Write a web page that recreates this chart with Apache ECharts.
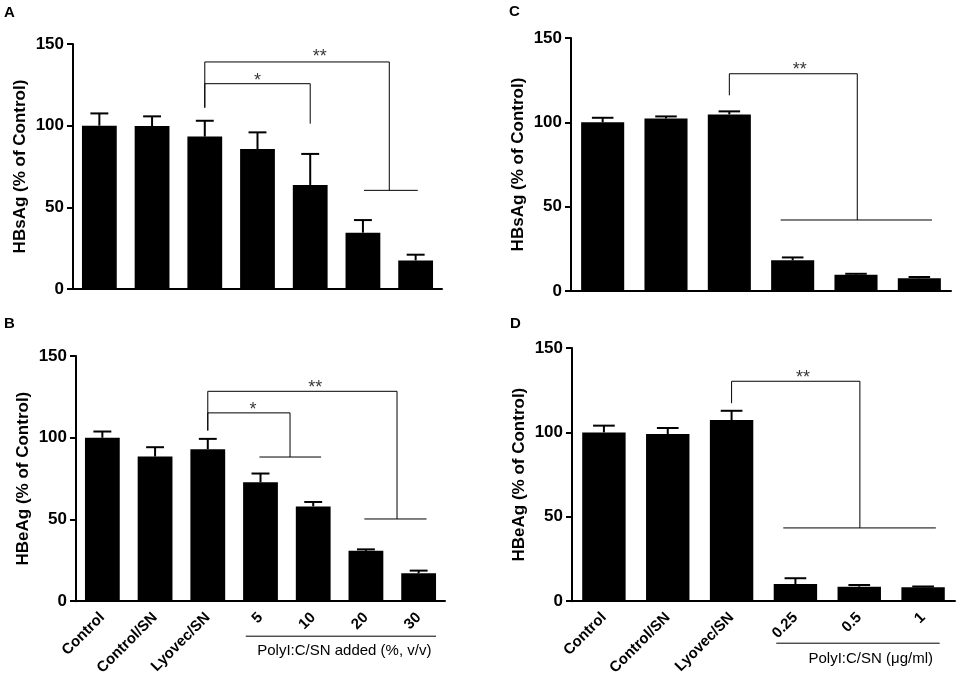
<!DOCTYPE html>
<html><head><meta charset="utf-8">
<script src="https://cdn.jsdelivr.net/npm/echarts@6/dist/echarts.min.js"></script>
<style>html,body{margin:0;padding:0;background:#fff}#c{width:957px;height:678px}</style>
</head><body><div id="c"></div>
<script>
// ---- data ----
const catsAB = ['Control', 'Control/SN', 'Lyovec/SN', '5', '10', '20', '30'];
const catsCD = ['Control', 'Control/SN', 'Lyovec/SN', '0.25', '0.5', '1'];

const meanA = [100, 99.8, 93.3, 85.7, 63.7, 34.5, 17.5];
const errA  = [7.5, 5.9, 9.7, 10.2, 19.0, 7.7, 3.5];
const meanB = [100, 88.5, 93.0, 72.7, 58.0, 30.8, 17.1];
const errB  = [3.8, 5.7, 6.3, 5.4, 2.7, 0.9, 1.6];
const meanC = [100, 102.3, 104.7, 18.2, 9.7, 7.5];
const errC  = [2.7, 1.2, 1.8, 1.7, 0.5, 0.8];
const meanD = [100, 99.0, 107.3, 10.2, 8.6, 8.2];
const errD  = [4.0, 3.6, 5.5, 3.4, 1.0, 0.5];

const yTicks = [0, 50, 100, 150];
const yNameAB = ['HBsAg (% of Control)', 'HBeAg (% of Control)'];
const yNameCD = ['HBsAg (% of Control)', 'HBeAg (% of Control)'];
const panelLetters = ['A', 'B', 'C', 'D'];
const groupTitleB = 'PolyI:C/SN added (%, v/v)';
const groupTitleD = 'PolyI:C/SN (\u03bcg/ml)';

// significance brackets: category-index positions and % values
const bracketsA = [
  {from: 2, to: 5.5, top: 139, fromLow: 111, toLow: 60.4, label: '**', labelX: 4.18, labelY: 142},
  {from: 2, to: 4.0, top: 125.7, fromLow: 111, toLow: 101.2, label: '*', labelX: 3.0, labelY: 127.5}
];
const groupLinesA = [{from: 5.02, to: 6.04, y: 60.4}];
const bracketsB = [
  {from: 2, to: 5.59, top: 128.4, fromLow: 104.4, toLow: 50.3, label: '**', labelX: 4.04, labelY: 130.5},
  {from: 2, to: 3.56, top: 115.2, fromLow: 104.4, toLow: 88.2, label: '*', labelX: 2.86, labelY: 117}
];
const groupLinesB = [{from: 4.97, to: 6.15, y: 50.3}, {from: 2.98, to: 4.15, y: 88.2}];
const bracketsC = [
  {from: 2, to: 4.02, top: 128.8, fromLow: 116, toLow: 42.1, label: '**', labelX: 3.11, labelY: 131}
];
const groupLinesC = [{from: 2.81, to: 5.2, y: 42.1}];
const bracketsD = [
  {from: 2, to: 4.01, top: 130.3, fromLow: 117.3, toLow: 43.4, label: '**', labelX: 3.12, labelY: 132.5}
];
const groupLinesD = [{from: 2.81, to: 5.2, y: 43.4}];
// x-axis grouping underline (category-index extent) and title centre
const groupAxisB = {from: 2.72, to: 6.33, mid: 4.59};
const groupAxisD = {from: 2.70, to: 5.26, mid: 4.18};

// ---- chart ----
const FONT = '"Liberation Sans", Arial, sans-serif';
const chart = echarts.init(document.getElementById('c'));

const panels = [
  {grid: {left: 73, top: 44, width: 369, height: 245}, cats: catsAB, mean: meanA, err: errA, yName: yNameAB[0], showX: false, brackets: bracketsA, lines: groupLinesA, barW: '66%'},
  {grid: {left: 76, top: 356, width: 369, height: 246}, cats: catsAB, mean: meanB, err: errB, yName: yNameAB[1], showX: true, brackets: bracketsB, lines: groupLinesB, barW: '66%'},
  {grid: {left: 571, top: 38, width: 380, height: 253}, cats: catsCD, mean: meanC, err: errC, yName: yNameCD[0], showX: false, brackets: bracketsC, lines: groupLinesC, barW: '68%'},
  {grid: {left: 572, top: 348, width: 383, height: 254}, cats: catsCD, mean: meanD, err: errD, yName: yNameCD[1], showX: true, brackets: bracketsD, lines: groupLinesD, barW: '68%'}
];

const grid = [], xAxis = [], yAxis = [], series = [];
panels.forEach((p, k) => {
  grid.push(Object.assign({containLabel: false}, p.grid));
  xAxis.push({
    type: 'category', gridIndex: k, data: p.cats, boundaryGap: true,
    axisLine: {show: true, onZero: false, lineStyle: {color: '#000', width: 2}},
    axisTick: {show: false},
    axisLabel: {show: p.showX, interval: 0, rotate: 45, margin: 14, color: '#000',
      fontFamily: FONT, fontWeight: 'bold', fontSize: 15},
    splitLine: {show: false}
  });
  xAxis.push({
    type: 'value', gridIndex: k, min: -0.5, max: p.cats.length - 0.5, show: false
  });
  yAxis.push({
    type: 'value', gridIndex: k, min: yTicks[0], max: yTicks[yTicks.length - 1], interval: 50,
    axisLine: {show: true, onZero: false, lineStyle: {color: '#000', width: 2}},
    axisTick: {show: true, inside: false, length: 6, lineStyle: {color: '#000', width: 2}},
    axisLabel: {color: '#000', fontFamily: FONT, fontWeight: 'bold', fontSize: 17, margin: 9},
    splitLine: {show: false},
    name: p.yName, nameLocation: 'middle', nameGap: 44,
    nameTextStyle: {color: '#000', fontFamily: FONT, fontWeight: 'bold', fontSize: 17}
  });
  series.push({
    type: 'bar', xAxisIndex: 2 * k, yAxisIndex: k, data: p.mean, barWidth: p.barW,
    itemStyle: {color: '#000'}, silent: true, z: 2
  });
  series.push({
    type: 'custom', xAxisIndex: 2 * k, yAxisIndex: k, z: 3, silent: true,
    data: p.mean.map((m, i) => [i, m, p.err[i]]),
    encode: {x: 0, y: 1},
    renderItem: function (params, api) {
      const i = api.value(0), m = api.value(1), e = api.value(2);
      const p0 = api.coord([i, m]);
      const p1 = api.coord([i, m + e]);
      const w = api.size([1, 0])[0] * 0.34;
      return {type: 'group', children: [
        {type: 'line', shape: {x1: p0[0], y1: p0[1], x2: p1[0], y2: p1[1]}, style: {stroke: '#000', lineWidth: 2}},
        {type: 'line', shape: {x1: p1[0] - w / 2, y1: p1[1], x2: p1[0] + w / 2, y2: p1[1]}, style: {stroke: '#000', lineWidth: 2}}
      ]};
    }
  });
  p.brackets.forEach(b => {
    series.push({
      type: 'line', xAxisIndex: 2 * k + 1, yAxisIndex: k, silent: true, symbol: 'none', z: 4,
      lineStyle: {color: '#000', width: 1}, animation: false,
      data: [[b.from, b.fromLow], [b.from, b.top], [b.to, b.top], [b.to, b.toLow]]
    });
    series.push({
      type: 'scatter', xAxisIndex: 2 * k + 1, yAxisIndex: k, silent: true, z: 5,
      symbolSize: 1, itemStyle: {color: 'rgba(0,0,0,0)'},
      data: [[b.labelX, b.labelY]],
      label: {show: true, position: 'inside', formatter: b.label, color: '#000',
        fontFamily: FONT, fontSize: 18}
    });
  });
  p.lines.forEach(l => {
    series.push({
      type: 'line', xAxisIndex: 2 * k + 1, yAxisIndex: k, silent: true, symbol: 'none', z: 4,
      lineStyle: {color: '#000', width: 1}, animation: false,
      data: [[l.from, l.y], [l.to, l.y]]
    });
  });
});

chart.setOption({animation: false, backgroundColor: '#fff', grid, xAxis, yAxis, series});

// decorations: panel letters and x-axis group underline + title
function px(k, x, y) { return chart.convertToPixel({xAxisIndex: 2 * k + 1, yAxisIndex: k}, [x, y]); }
const letterPos = [[4, 5], [4, 316], [509, 4], [510, 316]];
const graphic = panelLetters.map((t, i) => ({
  type: 'text', left: letterPos[i][0], top: letterPos[i][1],
  style: {text: t, fill: '#000', font: 'bold 15px ' + FONT}
}));
[[1, groupAxisB, groupTitleB, 35, 50], [3, groupAxisD, groupTitleD, 42, 58]].forEach(([k, g, title, dl, dt]) => {
  const a = px(k, g.from, 0), b = px(k, g.to, 0), c = px(k, g.mid, 0);
  graphic.push({type: 'line', shape: {x1: a[0], y1: a[1] + dl, x2: b[0], y2: a[1] + dl},
    style: {stroke: '#000', lineWidth: 1}});
  graphic.push({type: 'text', x: c[0], y: a[1] + dt,
    style: {text: title, fill: '#000', font: '15px ' + FONT, textAlign: 'center', textVerticalAlign: 'middle'}});
});
chart.setOption({graphic});
</script>
</body></html>
